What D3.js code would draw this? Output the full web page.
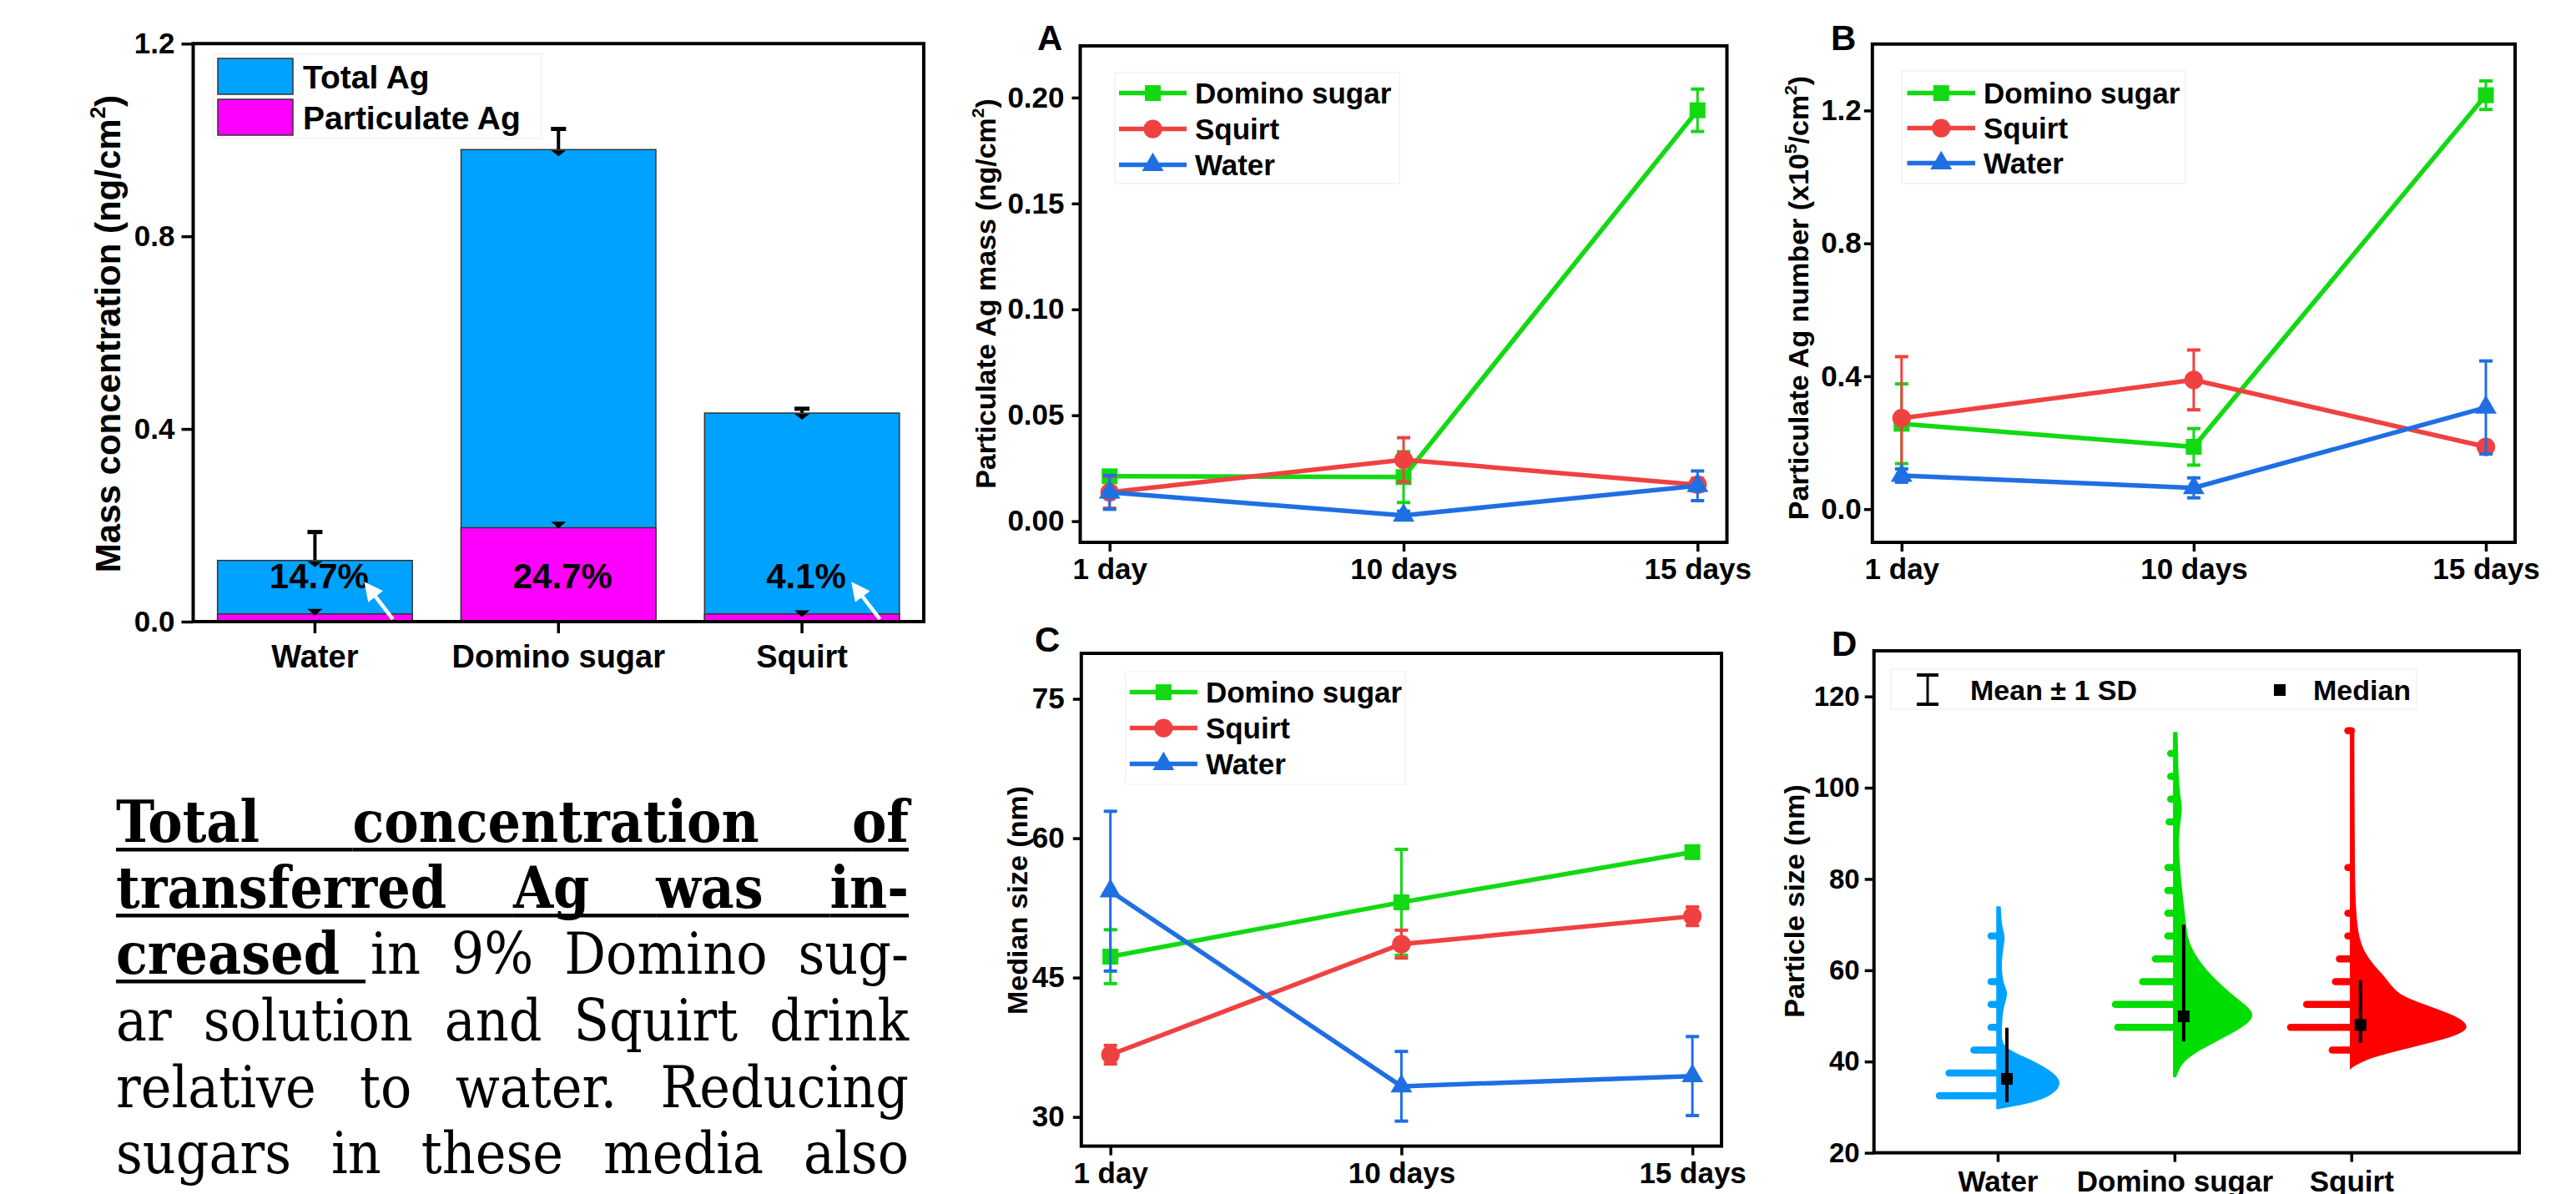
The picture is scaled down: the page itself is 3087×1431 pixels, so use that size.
<!DOCTYPE html>
<html>
<head>
<meta charset="utf-8">
<script src="https://cdn.jsdelivr.net/npm/d3@7"></script>
<style>
html, body { margin: 0; padding: 0; background: #fff; }
svg { display: block; }
text { font-family: "Liberation Sans", Arial, sans-serif; font-weight: bold; fill: #000; }
</style>
</head>
<body>
<svg id="fig" width="3087" height="1431"></svg>
<script>
// ---------- data: stacked bar chart ----------
const barCats = ["Water", "Domino sugar", "Squirt"];
const totalAg = [0.127, 0.980, 0.433];
const totalAgErr = [0.059, 0.043, 0.009];
const partAg = [0.016, 0.195, 0.016];
const partAgErr = [0.007, 0.009, 0.004];
const partPct = ["14.7%", "24.7%", "4.1%"];
const barTicks = [0, 0.4, 0.8, 1.2];

// ---------- data: time series (A, B, C) ----------
const days = ["1 day", "10 days", "15 days"];
const media = ["Domino sugar", "Squirt", "Water"];
const massMean = [[0.0212, 0.0208, 0.194], [0.0136, 0.029, 0.0172], [0.0136, 0.0027, 0.0167]];
const massErr  = [[0.002, 0.012, 0.010], [0.0075, 0.0104, 0.003], [0.008, 0.002, 0.007]];
const massTicks = [0, 0.05, 0.10, 0.15, 0.20];
const numMean = [[0.257, 0.1875, 1.246], [0.274, 0.389, 0.1875], [0.101, 0.064, 0.306]];
const numErr  = [[0.12, 0.055, 0.043], [0.185, 0.09, 0.012], [0.02, 0.03, 0.14]];
const numTicks = [0, 0.4, 0.8, 1.2];
const sizeMean = [[47.25, 53.1, 58.5], [36.7, 48.6, 51.6], [54.3, 33.3, 34.4]];
const sizeErr  = [[2.9, 5.7, 0.5], [1.0, 1.5, 1.0], [8.6, 3.75, 4.25]];
const sizeTicks = [30, 45, 60, 75];

// ---------- data: particle size distributions (D) ----------
const distCats = ["Water", "Domino sugar", "Squirt"];
// histogram: [bin centre nm, count]
const histWater  = [[32.5, 7.7], [37.5, 6.5], [42.5, 3.4], [47.5, 1.25], [52.5, 1.25], [57.5, 1.25], [67.5, 1.25]];
const histDomino = [[47.5, 7.5], [52.5, 7.8], [57.5, 4.4], [62.5, 2.8], [67.5, 1.25], [72.5, 1.25], [77.5, 1.25],
                    [82.5, 1.25], [92.5, 1.1], [97.5, 0.9], [102.5, 0.9], [107.5, 0.9]];
const histSquirt = [[42.5, 2.8], [47.5, 8.0], [52.5, 6.0], [57.5, 2.4], [62.5, 1.9], [67.5, 0.85], [72.5, 0.85],
                    [82.5, 0.85], [112.5, 0.85]];
// density curve: [size nm, density]
const kdeWater  = [[29.9, 0], [30.5, 2.1], [31.5, 4.7], [33, 6.8], [35.3, 7.9], [37.5, 6.8], [40, 4.2], [42, 1.6],
                   [43.5, 0.5], [45.5, 0.3], [48, 0.36], [50.5, 0.42], [53, 0.73], [55, 1.15], [57, 0.52], [60, 0.31],
                   [63, 0.36], [66, 0.63], [67.5, 0.73], [69.5, 0.36], [72, 0.26], [73.7, 0.2]];
const kdeDomino = [[36.6, 0], [37.5, 0.2], [39.9, 0.73], [42.9, 3.1], [45.9, 6.6], [49.6, 10.2], [52, 8.9], [54.5, 7.0],
                   [58.2, 4.7], [61, 3.3], [64.2, 2.1], [67, 1.46], [70.3, 1.25], [76.4, 0.83], [82, 0.52], [88.6, 0.31],
                   [92, 0.52], [95.9, 0.83], [98, 0.52], [103, 0.31], [108, 0.26], [111.9, 0.2]];
const kdeSquirt = [[38.9, 0], [39.2, 0.21], [41, 2.1], [42.9, 6.25], [45.4, 12.2], [47.4, 14.9], [49.6, 13.2], [52, 9.4],
                   [54.5, 5.5], [58.2, 4.2], [61, 2.6], [64.2, 1.35], [67, 0.83], [70.3, 0.52], [76.4, 0.31], [85, 0.26],
                   [100, 0.21], [112.7, 0.2]];
const sizeAvg = [39.25, 57.2, 50.95];
const sizeSD = [8.15, 12.8, 6.85];
const sizeMedian = [36.2, 49.9, 48.0];
const distTicks = [20, 40, 60, 80, 100, 120];

// ---------- styles ----------
const lineColors = ["#12d912", "#f04141", "#1f6fe3"];
const markerTypes = [d3.symbolSquare, d3.symbolCircle, d3.symbolTriangle];
const markerSizes = [361, 390, 290];
const distColors = ["#00a2ff", "#00dd00", "#ff0000"];
const barBlue = "#00a2ff", barPink = "#ff00ff";

const svg = d3.select("#fig");

function rich(sel, parts, fs) {
  let up = false;
  parts.forEach(p => {
    if (typeof p === "string") {
      sel.append("tspan").attr("dy", up ? fs * 0.42 : null).text(p);
      up = false;
    } else {
      sel.append("tspan").attr("dy", -fs * 0.42).style("font-size", (fs * 0.62) + "px").text(p.sup);
      up = true;
    }
  });
}

function yLabel(x, y, parts, fs) {
  const t = svg.append("text")
    .attr("transform", `translate(${x},${y}) rotate(-90)`)
    .attr("text-anchor", "middle")
    .style("font-size", fs + "px");
  rich(t, parts, fs);
}

function styleAxis(g, fs) {
  g.select(".domain").remove();
  g.selectAll(".tick line").attr("stroke", "#000").attr("stroke-width", 3.5);
  g.selectAll(".tick text").style("font-size", fs + "px").attr("fill", "#000");
}

function errBar(g, x, y0, y1, color, capW, sw) {
  g.append("line").attr("x1", x).attr("x2", x).attr("y1", y0).attr("y2", y1)
    .attr("stroke", color).attr("stroke-width", sw);
  [y0, y1].forEach(yy => g.append("line").attr("x1", x - capW / 2).attr("x2", x + capW / 2)
    .attr("y1", yy).attr("y2", yy).attr("stroke", color).attr("stroke-width", sw + 1));
}

// ================= stacked bar chart =================
(function () {
  const L = 231.5, R = 1107, T = 52.3, B = 745;
  const x = d3.scaleBand().domain(barCats).range([L, R]).paddingInner(0.2).paddingOuter(0.1);
  const y = d3.scaleLinear().domain([0, 1.2]).range([B, T]);
  const g = svg.append("g");

  barCats.forEach((c, i) => {
    const bx = x(c), bw = x.bandwidth(), cx = bx + bw / 2;
    // error bars first so bars sit over their lower ends
    g.append("line").attr("x1", cx).attr("x2", cx).attr("y1", y(totalAg[i])).attr("y2", y(totalAg[i] + totalAgErr[i]))
      .attr("stroke", "#000").attr("stroke-width", 4);
    g.append("rect").attr("x", bx).attr("y", y(totalAg[i])).attr("width", bw).attr("height", B - y(totalAg[i]))
      .attr("fill", barBlue).attr("stroke", "#333").attr("stroke-width", 1.5);
    g.append("rect").attr("x", bx).attr("y", y(partAg[i])).attr("width", bw).attr("height", B - y(partAg[i]))
      .attr("fill", barPink).attr("stroke", "#333").attr("stroke-width", 1.5);
    g.append("line").attr("x1", cx - 9).attr("x2", cx + 9).attr("y1", y(totalAg[i] + totalAgErr[i])).attr("y2", y(totalAg[i] + totalAgErr[i]))
      .attr("stroke", "#000").attr("stroke-width", 5);
    g.append("line").attr("x1", cx).attr("x2", cx).attr("y1", y(partAg[i])).attr("y2", y(partAg[i] + partAgErr[i]))
      .attr("stroke", "#000").attr("stroke-width", 4);
    g.append("path").attr("d", `M${cx - 9},${y(partAg[i] + partAgErr[i]) - 2}h18l-9,8z`).attr("fill", "#000");
    g.append("path").attr("d", `M${cx - 9},${y(totalAg[i]) + 1}h18l-9,7z`).attr("fill", "#000");
    g.append("text").attr("x", cx + 5).attr("y", y(0.07)).attr("text-anchor", "middle")
      .style("font-size", "42px").text(partPct[i]);
  });

  // white arrows pointing from the thin particulate layer to the label
  const defs = svg.append("defs");
  defs.append("marker").attr("id", "wArrow").attr("viewBox", "0 0 10 10").attr("refX", 2).attr("refY", 5)
    .attr("markerWidth", 5).attr("markerHeight", 5).attr("orient", "auto")
    .append("path").attr("d", "M0,0L10,5L0,10z").attr("fill", "#fff");
  [0, 2].forEach(i => {
    const bx = x(barCats[i]), bw = x.bandwidth();
    g.append("line").attr("x1", bx + bw * 0.9).attr("y1", y(0.005)).attr("x2", bx + bw * 0.8).attr("y2", y(0.058))
      .attr("stroke", "#fff").attr("stroke-width", 4.5).attr("marker-end", "url(#wArrow)");
  });

  const ay = g.append("g").attr("transform", `translate(${L},0)`)
    .call(d3.axisLeft(y).tickValues(barTicks).tickFormat(d3.format(".1f")).tickSize(14).tickPadding(8));
  styleAxis(ay, 35);
  const ax = g.append("g").attr("transform", `translate(0,${B})`)
    .call(d3.axisBottom(x).tickSize(14));
  styleAxis(ax, 38);
  ax.selectAll(".tick text").attr("y", 55).attr("dy", null);

  g.append("path").attr("d", `M${L},${T}H${R}V${B}H${L}Z`).attr("fill", "none")
    .attr("stroke", "#000").attr("stroke-width", 4);

  // legend
  g.append("rect").attr("x", 256).attr("y", 65).attr("width", 393).attr("height", 101)
    .attr("fill", "none").attr("stroke", "#f2f2f2").attr("stroke-width", 1.5);
  [["Total Ag", barBlue], ["Particulate Ag", barPink]].forEach((d, i) => {
    g.append("rect").attr("x", 261).attr("y", 70 + i * 49).attr("width", 90).attr("height", 43)
      .attr("fill", d[1]).attr("stroke", "#333").attr("stroke-width", 1.5);
    g.append("text").attr("x", 363).attr("y", 106 + i * 49).style("font-size", "39px").text(d[0]);
  });

  yLabel(144, 400, ["Mass concentration (ng/cm", { sup: "2" }, ")"], 42);
})();

// ================= line panels A, B, C =================
function linePanel(cfg) {
  const g = svg.append("g");
  const x = d3.scalePoint().domain(days).range([cfg.l, cfg.r]).padding(0.1);
  const y = d3.scaleLinear().domain(cfg.yDomain).range([cfg.b, cfg.t]);

  const ay = g.append("g").attr("transform", `translate(${cfg.l},0)`)
    .call(d3.axisLeft(y).tickValues(cfg.ticks).tickFormat(cfg.fmt).tickSize(10).tickPadding(cfg.pad));
  styleAxis(ay, 35);
  const ax = g.append("g").attr("transform", `translate(0,${cfg.b})`)
    .call(d3.axisBottom(x).tickSize(11));
  styleAxis(ax, 35);
  ax.selectAll(".tick text").attr("y", 44).attr("dy", null);

  const line = d3.line().x((d, i) => x(days[i])).y(d => y(d));
  cfg.mean.forEach((vals, s) => {
    const col = lineColors[s];
    g.append("path").datum(vals).attr("d", line).attr("fill", "none")
      .attr("stroke", col).attr("stroke-width", 5.5);
    vals.forEach((v, i) => {
      const e = cfg.err[s][i];
      errBar(g, x(days[i]), y(v - e), y(v + e), col, 16, 3);
    });
    vals.forEach((v, i) => {
      g.append("path").attr("d", d3.symbol().type(markerTypes[s]).size(markerSizes[s])())
        .attr("transform", `translate(${x(days[i])},${y(v)})`).attr("fill", col);
    });
  });

  g.append("rect").attr("x", cfg.l).attr("y", cfg.t).attr("width", cfg.r - cfg.l).attr("height", cfg.b - cfg.t)
    .attr("fill", "none").attr("stroke", "#000").attr("stroke-width", 4);

  // legend
  const lg = cfg.legend;
  g.append("rect").attr("x", lg.bx).attr("y", lg.by).attr("width", lg.bw).attr("height", lg.bh)
    .attr("fill", "none").attr("stroke", "#f2f2f2").attr("stroke-width", 1.5);
  media.forEach((m, s) => {
    const ly = lg.y0 + s * lg.dy;
    g.append("line").attr("x1", lg.x0).attr("x2", lg.x1).attr("y1", ly).attr("y2", ly)
      .attr("stroke", lineColors[s]).attr("stroke-width", 5.5);
    g.append("path").attr("d", d3.symbol().type(markerTypes[s]).size(markerSizes[s])())
      .attr("transform", `translate(${(lg.x0 + lg.x1) / 2},${ly})`).attr("fill", lineColors[s]);
    g.append("text").attr("x", lg.x1 + 10).attr("y", ly).attr("dy", "0.36em")
      .style("font-size", "35px").text(m);
  });

  g.append("text").attr("x", cfg.letter[0]).attr("y", cfg.letter[1]).style("font-size", "42px").text(cfg.name);
  yLabel(cfg.ylab[0], cfg.ylab[1], cfg.ylabText, 34);
}

linePanel({
  name: "A", l: 1294.5, r: 2069.5, t: 55, b: 650, yDomain: [-0.01, 0.2244],
  ticks: massTicks, fmt: d3.format(".2f"), pad: 9, mean: massMean, err: massErr,
  legend: { x0: 1341, x1: 1422, y0: 111.6, dy: 43, bx: 1336, by: 87, bw: 341, bh: 133 },
  letter: [1243, 60], ylab: [1193, 352], ylabText: ["Particulate Ag mass (ng/cm", { sup: "2" }, ")"]
});
linePanel({
  name: "B", l: 2243.8, r: 3014, t: 52.8, b: 650, yDomain: [-0.1, 1.4],
  ticks: numTicks, fmt: d3.format(".1f"), pad: 3, mean: numMean, err: numErr,
  legend: { x0: 2285.5, x1: 2367, y0: 111.6, dy: 42, bx: 2279, by: 85, bw: 340, bh: 135 },
  letter: [2194, 60], ylab: [2167, 357], ylabText: ["Particulate Ag number (x10", { sup: "5" }, "/cm", { sup: "2" }, ")"]
});
linePanel({
  name: "C", l: 1295.8, r: 2063, t: 783, b: 1373.6, yDomain: [26.86, 79.9],
  ticks: sizeTicks, fmt: d3.format("d"), pad: 10, mean: sizeMean, err: sizeErr,
  legend: { x0: 1353.8, x1: 1434.9, y0: 829.6, dy: 43, bx: 1349, by: 805, bw: 335, bh: 135 },
  letter: [1240, 781], ylab: [1231, 1079], ylabText: ["Median size (nm)"]
});

// ================= panel D: half violins =================
(function () {
  const L = 2245.7, R = 3019, T = 780, B = 1381.6;
  const g = svg.append("g");
  const x = d3.scaleLinear().domain([-0.7, 2.95]).range([L, R]);
  const y = d3.scaleLinear().domain([20, 130]).range([B, T]);
  const w = d3.scaleLinear().domain([0, 10]).range([0, 96]);
  const hists = [histWater, histDomino, histSquirt];
  const kdes = [kdeWater, kdeDomino, kdeSquirt];

  distCats.forEach((c, i) => {
    const cx = x(i), col = distColors[i];
    hists[i].forEach(h => {
      g.append("line").attr("x1", cx).attr("x2", cx - Math.max(w(h[1]) - 4, 0.5))
        .attr("y1", y(h[0])).attr("y2", y(h[0]))
        .attr("stroke", col).attr("stroke-width", 8.5).attr("stroke-linecap", "round");
    });
    const area = d3.area().curve(d3.curveBasis)
      .y(d => y(d[0])).x0(cx).x1(d => cx + w(d[1]));
    g.append("path").datum(kdes[i]).attr("d", area)
      .attr("fill", col).attr("stroke", col).attr("stroke-width", 3.5);
    const mx = cx + 11;
    g.append("line").attr("x1", mx).attr("x2", mx)
      .attr("y1", y(sizeAvg[i] - sizeSD[i])).attr("y2", y(sizeAvg[i] + sizeSD[i]))
      .attr("stroke", "#000").attr("stroke-width", 4);
    g.append("rect").attr("x", mx - 7).attr("y", y(sizeMedian[i]) - 7).attr("width", 14).attr("height", 14)
      .attr("fill", "#000");
  });

  const ay = g.append("g").attr("transform", `translate(${L},0)`)
    .call(d3.axisLeft(y).tickValues(distTicks).tickFormat(d3.format("d")).tickSize(11).tickPadding(6));
  styleAxis(ay, 33);
  const ax = g.append("g").attr("transform", `translate(0,${B})`)
    .call(d3.axisBottom(x).tickValues([0, 1, 2]).tickFormat(i => distCats[i]).tickSize(11));
  styleAxis(ax, 35);
  ax.selectAll(".tick text").attr("y", 46).attr("dy", null);

  g.append("rect").attr("x", L).attr("y", T).attr("width", R - L).attr("height", B - T)
    .attr("fill", "none").attr("stroke", "#000").attr("stroke-width", 4);

  // legend
  g.append("rect").attr("x", 2266).attr("y", 801.6).attr("width", 630).attr("height", 48.5)
    .attr("fill", "none").attr("stroke", "#f2f2f2").attr("stroke-width", 1.5);
  errBar(g, 2310, 809, 844, "#000", 26, 3);
  g.append("text").attr("x", 2361).attr("y", 839).style("font-size", "34px").text("Mean \u00b1 1 SD");
  g.append("rect").attr("x", 2725).attr("y", 820).attr("width", 14).attr("height", 14).attr("fill", "#000");
  g.append("text").attr("x", 2772).attr("y", 839).style("font-size", "34px").text("Median");

  g.append("text").attr("x", 2195).attr("y", 786).style("font-size", "42px").text("D");
  yLabel(2162, 1080, ["Particle size (nm)"], 34);
})();

// ================= caption paragraph =================
const paraLines = [
  [{ t: "Total", b: 1, u: 1 }, { t: "concentration", b: 1, u: 1 }, { t: "of", b: 1, u: 1 }],
  [{ t: "transferred", b: 1, u: 1 }, { t: "Ag", b: 1, u: 1 }, { t: "was", b: 1, u: 1 }, { t: "in-", b: 1, u: 1 }],
  [{ t: "creased", b: 1, u: 1 }, { t: "in" }, { t: "9%" }, { t: "Domino" }, { t: "sug-" }],
  [{ t: "ar" }, { t: "solution" }, { t: "and" }, { t: "Squirt" }, { t: "drink" }],
  [{ t: "relative" }, { t: "to" }, { t: "water." }, { t: "Reducing" }],
  [{ t: "sugars" }, { t: "in" }, { t: "these" }, { t: "media" }, { t: "also" }]
];
const paraBaselines = [1009, 1088, 1167, 1247, 1327, 1406];

(function () {
  const x0 = 139, x1 = 1089;
  const g = svg.append("g");
  paraLines.forEach((words, li) => {
    const yb = paraBaselines[li];
    const nodes = words.map(wd => g.append("text").attr("y", yb)
      .style("font-family", "'DejaVu Serif Condensed', 'DejaVu Serif', 'Liberation Serif', serif")
      .style("font-stretch", "condensed")
      .style("font-weight", wd.b ? "bold" : "normal")
      .style("font-size", "69px").text(wd.t));
    const widths = nodes.map(n => n.node().getComputedTextLength());
    const gap = (x1 - x0 - d3.sum(widths)) / (words.length - 1);
    const xs = [];
    let cur = x0;
    nodes.forEach((n, i) => { n.attr("x", cur); xs.push(cur); cur += widths[i] + gap; });
    words.forEach((wd, i) => {
      if (!wd.u) return;
      let xe;
      if (i === words.length - 1) xe = xs[i] + widths[i];
      else xe = words[i + 1].u ? xs[i + 1] : xs[i + 1] - 6;
      g.append("rect").attr("x", xs[i]).attr("y", yb + 7).attr("width", xe - xs[i]).attr("height", 4.5).attr("fill", "#000");
    });
  });
})();
</script>
</body>
</html>
